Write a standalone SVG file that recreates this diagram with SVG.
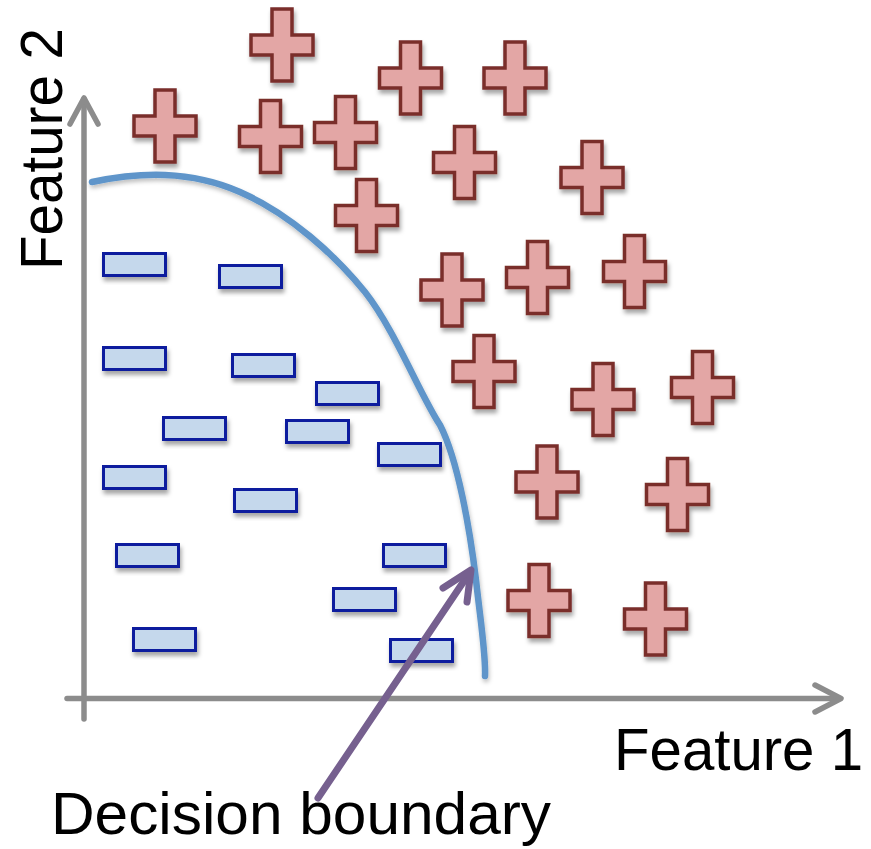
<svg xmlns="http://www.w3.org/2000/svg" width="871" height="849" viewBox="0 0 871 849">
<defs>
<filter id="sh" x="-30%" y="-30%" width="160%" height="170%">
<feDropShadow dx="1.5" dy="4" stdDeviation="2" flood-color="#000" flood-opacity="0.35"/>
</filter>
<filter id="shl" x="-10%" y="-10%" width="120%" height="120%">
<feDropShadow dx="1" dy="3" stdDeviation="2" flood-color="#000" flood-opacity="0.25"/>
</filter>
<path id="plus" d="M-10,-36 H10 V-10 H31 V10 H10 V36 H-10 V10 H-31 V-10 H-10 Z"/>
</defs>
<style>
.p{fill:#E3A6A5;stroke:#7A2E2B;stroke-width:3.5;filter:url(#sh)}
.n{fill:#C5D8EC;stroke:#0A1E9E;stroke-width:3;filter:url(#sh)}
.ax{fill:none;stroke:#8C8C8C;stroke-width:5.5;stroke-linecap:round;stroke-linejoin:round}
.bd{fill:none;stroke:#5E95CA;stroke-width:6.5;stroke-linecap:round;filter:url(#shl)}
.ar{fill:none;stroke:#76608F;stroke-width:7;stroke-linecap:round;stroke-linejoin:round}
.t{font-family:"Liberation Sans",Arial,sans-serif;font-size:59px;fill:#000}
</style>
<rect width="871" height="849" fill="#fff"/>
<g id="connectors">
<path class="ax" d="M84,719 V99"/>
<path class="ax" d="M70,124 L84,98 L98,124"/>
<path class="ax" d="M67,698.5 H839"/>
<path class="ax" d="M815,685 L841,698.5 L815,712"/>
<path class="bd" d="M92,182 C140,172 190,170 240,192 C290,214 335,255 365,292 C395,330 420,395 440,425 C458,460 470,530 476,580 C481,625 486,655 485,676"/>
</g>
<g id="negatives">
<g id="n1"><rect class="n" x="103.5" y="253.5" width="62" height="22"/></g>
<g id="n2"><rect class="n" x="219.5" y="265.5" width="62" height="22"/></g>
<g id="n3"><rect class="n" x="103.5" y="347.5" width="62" height="22"/></g>
<g id="n4"><rect class="n" x="232.5" y="354.5" width="62" height="22"/></g>
<g id="n5"><rect class="n" x="316.5" y="382.5" width="62" height="22"/></g>
<g id="n6"><rect class="n" x="163.5" y="417.5" width="62" height="22"/></g>
<g id="n7"><rect class="n" x="286.5" y="420.5" width="62" height="22"/></g>
<g id="n8"><rect class="n" x="378.5" y="443.5" width="62" height="22"/></g>
<g id="n9"><rect class="n" x="103.5" y="466.5" width="62" height="22"/></g>
<g id="n10"><rect class="n" x="234.5" y="489.5" width="62" height="22"/></g>
<g id="n11"><rect class="n" x="116.5" y="544.5" width="62" height="22"/></g>
<g id="n12"><rect class="n" x="383.5" y="544.5" width="62" height="22"/></g>
<g id="n13"><rect class="n" x="333.5" y="588.5" width="62" height="22"/></g>
<g id="n14"><rect class="n" x="133.5" y="628.5" width="62" height="22"/></g>
<g id="n15"><rect class="n" x="390.5" y="639.5" width="62" height="22"/></g>
</g>
<g id="positives">
<g id="p1"><use href="#plus" class="p" x="282" y="45"/></g>
<g id="p2"><use href="#plus" class="p" x="165" y="126"/></g>
<g id="p3"><use href="#plus" class="p" x="270.5" y="136.5"/></g>
<g id="p4"><use href="#plus" class="p" x="345.5" y="132.5"/></g>
<g id="p5"><use href="#plus" class="p" x="410.5" y="78"/></g>
<g id="p6"><use href="#plus" class="p" x="515" y="78"/></g>
<g id="p7"><use href="#plus" class="p" x="464.5" y="162.5"/></g>
<g id="p8"><use href="#plus" class="p" x="366.5" y="215.5"/></g>
<g id="p9"><use href="#plus" class="p" x="592" y="177.5"/></g>
<g id="p10"><use href="#plus" class="p" x="452" y="290"/></g>
<g id="p11"><use href="#plus" class="p" x="537.5" y="277.5"/></g>
<g id="p12"><use href="#plus" class="p" x="634.5" y="271.5"/></g>
<g id="p13"><use href="#plus" class="p" x="484" y="371.5"/></g>
<g id="p14"><use href="#plus" class="p" x="603" y="399.5"/></g>
<g id="p15"><use href="#plus" class="p" x="702.5" y="387.5"/></g>
<g id="p16"><use href="#plus" class="p" x="547" y="482"/></g>
<g id="p17"><use href="#plus" class="p" x="677.5" y="494.5"/></g>
<g id="p18"><use href="#plus" class="p" x="539" y="600.5"/></g>
<g id="p19"><use href="#plus" class="p" x="655.5" y="619"/></g>
</g>
<g id="pointer">
<path class="ar" d="M318,798 L470,572"/>
<path class="ar" d="M443,588 L471,570 L467,602"/>
</g>
<g id="labels">
<text class="t" x="614" y="770" textLength="249" lengthAdjust="spacingAndGlyphs">Feature 1</text>
<text class="t" transform="translate(62,270) rotate(-90)" x="0" y="0" textLength="242" lengthAdjust="spacingAndGlyphs">Feature 2</text>
<text class="t" x="51" y="834" textLength="500" lengthAdjust="spacingAndGlyphs">Decision boundary</text>
</g>
</svg>
